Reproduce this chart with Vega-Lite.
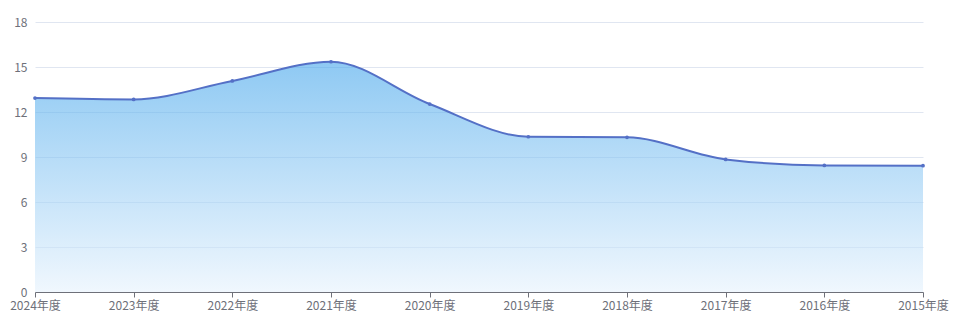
{
  "$schema": "https://vega.github.io/schema/vega-lite/v6.json",
  "width": 888,
  "height": 270,
  "autosize": {"type": "none"},
  "padding": {"left": 35, "top": 22, "right": 32, "bottom": 30},
  "config": {
    "view": {"stroke": null},
    "font": "Noto Sans CJK SC",
    "axis": {"labelFont": "Noto Sans CJK SC", "labelFontSize": 12, "labelColor": "#6e7079", "title": null}
  },
  "data": {
    "values": [
      {"year": "2024年度", "value": 12.93},
      {"year": "2023年度", "value": 12.84},
      {"year": "2022年度", "value": 14.07},
      {"year": "2021年度", "value": 15.35},
      {"year": "2020年度", "value": 12.53},
      {"year": "2019年度", "value": 10.35},
      {"year": "2018年度", "value": 10.31},
      {"year": "2017年度", "value": 8.84},
      {"year": "2016年度", "value": 8.44},
      {"year": "2015年度", "value": 8.42}
    ]
  },
  "encoding": {
    "x": {
      "field": "year",
      "type": "ordinal",
      "sort": null,
      "scale": {"type": "point", "padding": 0},
      "axis": {
        "labelAngle": 0,
        "domainColor": "#6e7079",
        "tickColor": "#6e7079",
        "tickSize": 5,
        "labelPadding": 3,
        "grid": false
      }
    },
    "y": {
      "field": "value",
      "type": "quantitative",
      "scale": {"domain": [0, 18], "nice": false},
      "axis": {
        "values": [0, 3, 6, 9, 12, 15, 18],
        "domain": false,
        "ticks": false,
        "tickSize": 0,
        "labelPadding": 8,
        "grid": true,
        "gridColor": "#e0e6f1"
      }
    }
  },
  "layer": [
    {
      "mark": {
        "type": "area",
        "interpolate": "monotone",
        "fillOpacity": 0.6,
        "color": {
          "gradient": "linear",
          "x1": 0, "y1": 0, "x2": 0, "y2": 1,
          "stops": [
            {"offset": 0, "color": "#43a5eb"},
            {"offset": 1, "color": "#e6f2fd"}
          ]
        }
      }
    },
    {
      "mark": {"type": "line", "interpolate": "monotone", "color": "#5470c6", "strokeWidth": 2}
    },
    {
      "mark": {"type": "point", "filled": true, "opacity": 1, "color": "#5470c6", "size": 14, "shape": "circle"}
    }
  ]
}
